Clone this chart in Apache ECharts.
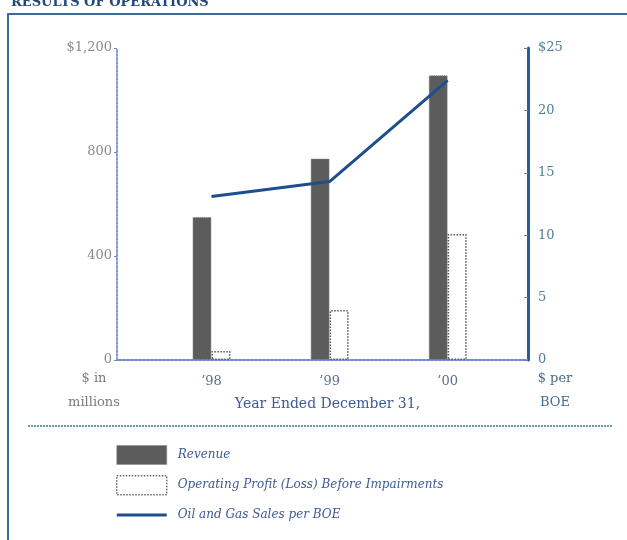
<!DOCTYPE html>
<html>
<head>
<meta charset="utf-8">
<script src="https://cdn.jsdelivr.net/npm/echarts@6/dist/echarts.min.js"></script>
<style>
	html, body { margin: 0; padding: 0; background: #fff; }
	#myChart { width: 627px; height: 540px; }
</style>
</head>
<body>
<div id="myChart"></div>
<script>
	// year positions on the x value axis and their labels
	var years = [0, 1, 2];
	var yearLabels = ['\u201998', '\u201999', '\u201900'];
	// $ in millions
	var revenue = [550, 775, 1095];
	var operatingProfit = [35, 192, 485];
	// $ per BOE
	var salesPerBoe = [13.1, 14.3, 22.4];
	var leftTicks = [0, 400, 800, 1200];
	var rightTicks = [0, 5, 10, 15, 20, 25];

	var serif = '"DejaVu Serif", "Liberation Serif", serif';
	var blue = '#2a5d96';

	function pairs(vals) {
		return years.map(function (x, i) { return [x, vals[i]]; });
	}

	var myChart = echarts.init(document.getElementById('myChart'));
	myChart.setOption({
		animation: false,
		title: {
			text: 'RESULTS OF OPERATIONS',
			left: 6,
			top: -9,
			textStyle: { fontFamily: serif, fontSize: 13, fontWeight: 'bold', color: '#24477a' }
		},
		grid: { left: 117, right: 99, top: 48, bottom: 180 },
		legend: {
			orient: 'vertical',
			left: 116,
			top: 445,
			padding: 0,
			itemWidth: 50,
			itemHeight: 19,
			itemGap: 10,
			data: [{
				name: 'Revenue',
				icon: 'rect',
				itemStyle: { color: '#5c5c5c', borderColor: '#888', borderWidth: 1, borderType: 'dotted' }
			}, {
				name: 'Operating Profit (Loss) Before Impairments',
				icon: 'rect',
				itemStyle: { color: '#ffffff', borderColor: '#666', borderWidth: 1.5, borderType: 'dotted' }
			}, {
				name: 'Oil and Gas Sales per BOE',
				icon: 'path://M0,0h0.01v0.01h-0.01z M0,8h50v3h-50z M49.99,18.99h0.01v0.01h-0.01z',
				itemStyle: { color: '#1f4e8c' }
			}],
			textStyle: { fontFamily: serif, fontStyle: 'italic', fontSize: 12, color: '#3b5a98', padding: [0, 0, 0, 6] }
		},
		xAxis: [{
			type: 'value',
			min: -0.8,
			max: 2.68,
			splitLine: { show: false },
			axisLine: { show: true, lineStyle: { color: blue, width: 2 } },
			axisTick: { show: false },
			axisLabel: {
				customValues: years,
				margin: 15,
				fontFamily: serif,
				fontSize: 13,
				color: '#5a6f8a',
				formatter: function (v) { return yearLabels[Math.round(v)]; }
			},
			name: 'Year Ended December 31,',
			nameLocation: 'middle',
			nameGap: 37,
			nameTextStyle: { fontFamily: serif, fontSize: 14, color: '#3b5a98', padding: [0, 0, 0, 10] }
		}, {
			type: 'value',
			position: 'top',
			min: -0.8,
			max: 2.68,
			splitLine: { show: false },
			axisLine: { show: true, lineStyle: { color: '#7d9bd0', width: 2, type: 'dotted' } },
			axisTick: { show: false },
			axisLabel: { show: false }
		}],
		yAxis: [{
			type: 'value',
			min: 0,
			max: 1200,
			interval: 400,
			splitLine: { show: false },
			axisLine: { show: true, onZero: false, lineStyle: { color: '#7d9bd0', width: 2, type: 'dotted' } },
			axisTick: { show: true, length: 3, lineStyle: { color: '#6a88c0' } },
			axisLabel: {
				margin: 5,
				fontFamily: serif,
				fontSize: 13,
				color: '#8a8a8a',
				formatter: function (v) { return v === 1200 ? '$1,200' : String(v); }
			},
			name: '$ in\nmillions',
			nameLocation: 'start',
			nameGap: -4,
			nameTextStyle: { fontFamily: serif, fontSize: 13, lineHeight: 24, color: '#7a7a7a', align: 'center', padding: [0, 46, 0, 0] }
		}, {
			type: 'value',
			min: 0,
			max: 25,
			interval: 5,
			position: 'right',
			splitLine: { show: false },
			axisLine: { show: true, onZero: false, lineStyle: { color: blue, width: 3 } },
			axisTick: { show: true, inside: true, length: 4, lineStyle: { color: '#5a86c0' } },
			axisLabel: {
				margin: 10,
				fontFamily: serif,
				fontSize: 13,
				color: '#4f7f96',
				formatter: function (v) { return v === 25 ? '$25' : String(v); }
			},
			name: '$ per\nBOE',
			nameLocation: 'start',
			nameGap: -4,
			nameTextStyle: { fontFamily: serif, fontSize: 13, lineHeight: 24, color: '#4a6a8a', align: 'center', padding: [0, 0, 0, 54] }
		}],
		series: [{
			name: 'Revenue',
			type: 'bar',
			barWidth: 19,
			barGap: '0%',
			data: pairs(revenue),
			itemStyle: { color: '#5c5c5c', borderColor: '#888', borderWidth: 1, borderType: 'dotted' }
		}, {
			name: 'Operating Profit (Loss) Before Impairments',
			type: 'bar',
			barWidth: 19,
			data: pairs(operatingProfit),
			itemStyle: { color: '#ffffff', borderColor: '#555', borderWidth: 1.5, borderType: 'dotted' }
		}, {
			name: 'Oil and Gas Sales per BOE',
			type: 'line',
			yAxisIndex: 1,
			symbol: 'none',
			data: pairs(salesPerBoe),
			lineStyle: { color: '#1f4e8c', width: 3 },
			itemStyle: { color: '#1f4e8c' }
		}],
		graphic: [{
			type: 'polyline',
			shape: { points: [[8, 540], [8, 14], [627, 14]] },
			style: { stroke: '#3d6a98', lineWidth: 2, fill: null }
		}, {
			type: 'line',
			shape: { x1: 28, y1: 426, x2: 612, y2: 426 },
			style: { stroke: '#6a9ab0', lineWidth: 2, lineDash: [2, 1] }
		}]
	});
</script>
</body>
</html>
